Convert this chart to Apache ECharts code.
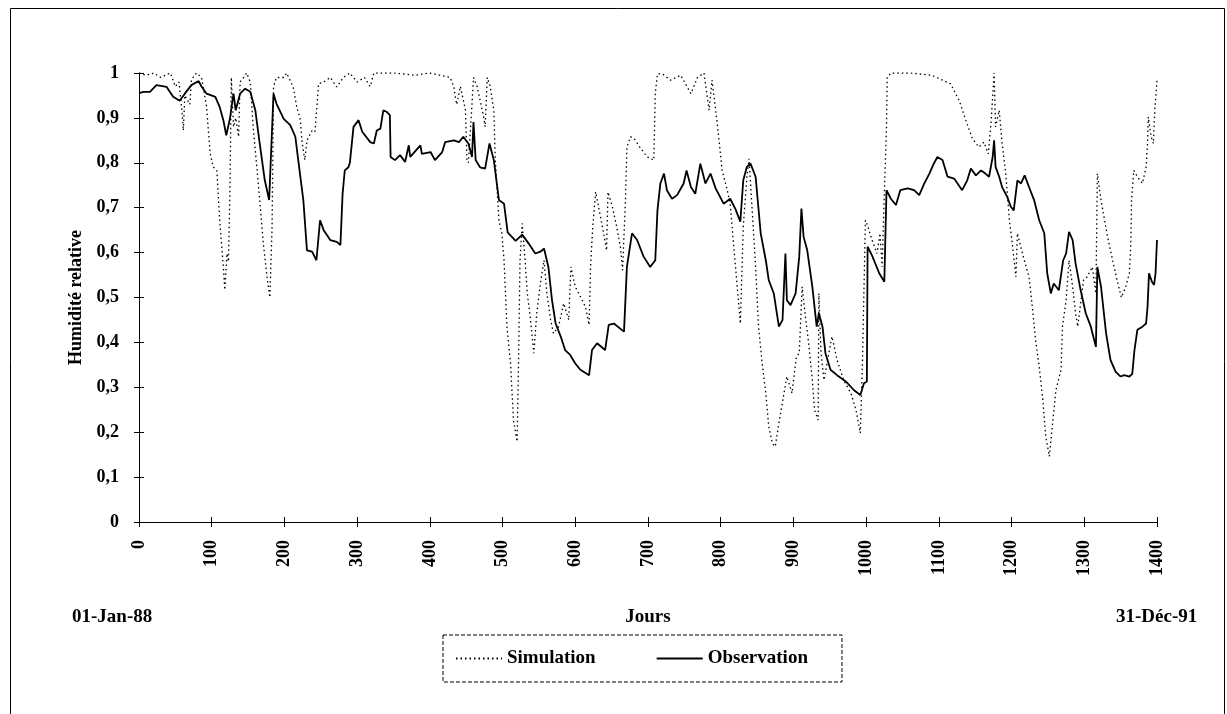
<!DOCTYPE html>
<html>
<head>
<meta charset="utf-8">
<script src="https://cdn.jsdelivr.net/npm/echarts@6/dist/echarts.min.js"></script>
<style>
html,body{margin:0;padding:0;background:#fff;}
#chart{width:1227px;height:714px;}
</style>
</head>
<body>
<div id="chart"></div>
<script>
// ---- Data ----
const yTicks = [0, 0.1, 0.2, 0.3, 0.4, 0.5, 0.6, 0.7, 0.8, 0.9, 1];
const xTicks = [0, 100, 200, 300, 400, 500, 600, 700, 800, 900, 1000, 1100, 1200, 1300, 1400];
const startLabel = '01-Jan-88';
const endLabel = '31-Déc-91';

const obsDays = [0,6,15,24,38,47,56,63,72,82,86,93,105,111,116,120,125,130,133,139,146,153,160,166,173,179,185,189,199,208,215,219,226,231,238,244,249,254,263,272,277,280,283,288,
290,295,302,307,318,323,327,332,336,341,345,346,352,359,366,371,373,387,389,401,407,417,421,433,440,446,453,458,460,463,469,476,482,488,495,502,507,518,527,536,545,552,557,563,568,573,580,586,593,600,607,619,623,630,641,646,653,667,671,678,685,694,703,710,713,717,722,726,733,740,749,753,759,765,772,779,786,793,804,813,820,827,831,836,841,848,855,862,866,873,880,885,889,891,896,903,908,911,914,919,926,932,935,940,944,951,960,972,983,992,997,1001,1002,1008,1018,1025,1028,1034,1041,1047,1057,1066,1073,1080,1087,1093,1098,1105,1112,1121,1132,1139,1144,1151,1158,1164,1169,1174,1176,1178,1183,1187,1194,1199,1203,1208,1213,1218,1224,1231,1238,1245,1249,1254,1258,1265,1271,1275,1279,1284,1288,1295,1302,1309,1316,1318,1323,1330,1336,1343,1350,1355,1362,1366,1369,1373,1380,1385,1387,1389,1393,1396,1398,1400];
const obsValues = [0.955,0.958,0.958,0.973,0.969,0.947,0.938,0.954,0.973,0.982,0.97,0.954,0.947,0.924,0.895,0.861,0.898,0.954,0.917,0.954,0.965,0.958,0.917,0.843,0.761,0.717,0.954,0.932,0.898,0.884,0.858,0.806,0.717,0.605,0.602,0.583,0.672,0.65,0.628,0.624,0.617,0.731,0.783,0.79,
0.80,0.88,0.895,0.869,0.846,0.843,0.872,0.876,0.917,0.913,0.906,0.813,0.806,0.817,0.802,0.839,0.813,0.839,0.82,0.824,0.806,0.824,0.846,0.85,0.846,0.858,0.843,0.813,0.891,0.806,0.79,0.787,0.843,0.806,0.717,0.709,0.645,0.626,0.64,0.62,0.598,0.602,0.609,0.568,0.494,0.442,0.413,0.383,0.372,0.353,0.339,0.327,0.383,0.398,0.383,0.439,0.442,0.424,0.568,0.643,0.628,0.591,0.568,0.583,0.694,0.754,0.776,0.739,0.72,0.728,0.754,0.783,0.746,0.731,0.798,0.754,0.776,0.743,0.709,0.72,0.698,0.669,0.761,0.791,0.798,0.769,0.643,0.583,0.539,0.509,0.435,0.45,0.598,0.494,0.483,0.509,0.591,0.698,0.635,0.605,0.524,0.435,0.465,0.435,0.376,0.339,0.327,0.313,0.294,0.283,0.309,0.313,0.613,0.594,0.554,0.535,0.739,0.72,0.706,0.739,0.743,0.739,0.728,0.754,0.776,0.798,0.813,0.806,0.769,0.765,0.739,0.761,0.787,0.772,0.783,0.776,0.769,0.813,0.85,0.791,0.769,0.746,0.724,0.702,0.694,0.761,0.754,0.772,0.746,0.717,0.672,0.643,0.554,0.509,0.531,0.516,0.583,0.598,0.646,0.628,0.576,0.516,0.465,0.435,0.39,0.568,0.524,0.42,0.361,0.335,0.324,0.327,0.324,0.33,0.383,0.428,0.435,0.442,0.479,0.554,0.535,0.528,0.554,0.628];

const simDays = [0,10,20,30,43,50,55,59,61,63,70,72,79,86,93,95,98,102,107,111,116,118,121,123,125,127,130,133,137,139,144,148,153,157,162,166,171,176,180,183,185,189,199,203,212,217,222,224,228,231,238,242,245,247,254,263,272,281,290,300,310,318,323,350,380,400,428,433,435,437,442,449,451,453,458,460,465,469,474,476,479,483,488,490,495,499,502,506,511,515,520,522,524,527,531,534,538,543,547,552,557,561,566,570,577,584,591,594,600,607,614,619,621,624,628,632,639,643,645,651,657,662,665,669,671,676,681,690,699,708,710,713,720,731,745,759,768,777,784,788,795,802,809,813,818,827,831,836,839,843,848,852,857,862,866,871,875,880,887,891,898,904,908,912,917,921,926,929,934,935,938,942,947,953,960,969,979,986,992,995,999,1002,1008,1015,1019,1022,1025,1028,1029,1034,1061,1090,1116,1128,1137,1146,1155,1162,1168,1172,1176,1178,1183,1187,1192,1197,1201,1206,1208,1215,1220,1224,1229,1233,1238,1243,1247,1252,1256,1261,1268,1270,1275,1279,1284,1288,1291,1295,1299,1304,1311,1316,1318,1323,1332,1339,1344,1351,1357,1362,1364,1365,1368,1373,1380,1385,1387,1388,1392,1395,1397,1400];
const simValues = [1.0,0.995,1.0,0.99,1.0,0.97,0.98,0.917,0.872,0.95,0.93,0.985,1.0,0.99,0.924,0.88,0.82,0.791,0.783,0.672,0.568,0.517,0.598,0.58,0.731,0.99,0.88,0.9,0.858,0.98,0.99,1.0,0.98,0.88,0.791,0.717,0.62,0.546,0.5,0.657,0.969,0.99,0.99,1.0,0.969,0.924,0.895,0.85,0.806,0.85,0.872,0.869,0.932,0.976,0.98,0.99,0.969,0.99,1.0,0.98,0.99,0.97,1.0,1.0,0.995,1.0,0.99,0.969,0.947,0.93,0.97,0.917,0.806,0.8,0.932,0.99,0.97,0.94,0.902,0.88,0.99,0.97,0.917,0.806,0.672,0.643,0.583,0.435,0.353,0.227,0.179,0.36,0.583,0.665,0.583,0.509,0.457,0.376,0.465,0.531,0.583,0.509,0.45,0.42,0.435,0.487,0.45,0.568,0.524,0.502,0.479,0.439,0.568,0.657,0.735,0.702,0.643,0.605,0.735,0.702,0.657,0.613,0.561,0.717,0.835,0.858,0.854,0.832,0.813,0.806,0.954,0.998,0.998,0.984,0.995,0.954,0.99,1.0,0.917,0.984,0.891,0.783,0.739,0.709,0.613,0.442,0.657,0.769,0.809,0.702,0.568,0.435,0.353,0.287,0.213,0.175,0.168,0.22,0.287,0.324,0.287,0.368,0.376,0.524,0.45,0.398,0.316,0.25,0.227,0.509,0.376,0.316,0.361,0.413,0.361,0.316,0.287,0.25,0.198,0.36,0.672,0.66,0.628,0.598,0.643,0.568,0.731,0.88,0.99,1.0,1.0,0.995,0.976,0.939,0.895,0.854,0.835,0.846,0.82,0.895,1.0,0.88,0.917,0.843,0.776,0.672,0.62,0.546,0.643,0.598,0.568,0.546,0.472,0.405,0.346,0.272,0.19,0.146,0.213,0.294,0.339,0.435,0.494,0.583,0.524,0.465,0.435,0.487,0.539,0.546,0.568,0.509,0.776,0.717,0.635,0.583,0.546,0.5,0.524,0.554,0.62,0.717,0.783,0.769,0.754,0.791,0.843,0.902,0.858,0.843,0.917,0.984];

const zip = (a, b) => a.map((d, i) => [d, b[i]]);

const FONT = '"Liberation Serif", "Times New Roman", serif';
const chart = echarts.init(document.getElementById('chart'), null, {renderer: 'canvas'});

const gridL = 139, gridR = 70, gridT = 73, gridB = 192;
const axisCommon = {color: '#000', width: 1};

chart.setOption({
  animation: false,
  backgroundColor: '#fff',
  textStyle: {fontFamily: FONT},
  grid: {left: gridL, right: gridR, top: gridT, bottom: gridB, containLabel: false},
  legend: {
    data: ['Simulation', 'Observation'],
    left: 443,
    top: 635,
    itemGap: 60,
    itemWidth: 46,
    itemHeight: 14,
    textStyle: {fontFamily: FONT, fontWeight: 'bold', fontSize: 19, color: '#000'},
    itemStyle: {color: 'rgba(0,0,0,0)', borderWidth: 0, opacity: 0},
    padding: [14, 34, 14, 12],
    borderColor: '#000',
    borderWidth: 1,
    borderType: 'dashed'
  },
  xAxis: [{
    type: 'value',
    min: 0, max: 1400, interval: 100,
    name: 'Jours',
    nameLocation: 'middle',
    nameGap: 86,
    nameTextStyle: {fontFamily: FONT, fontWeight: 'bold', fontSize: 19, color: '#000'},
    axisLine: {lineStyle: axisCommon, onZero: false},
    axisTick: {show: true, length: 5, lineStyle: axisCommon},
    axisLabel: {
      rotate: 90, margin: 18, color: '#000', fontFamily: FONT, fontWeight: 'bold', fontSize: 18,
      formatter: v => xTicks.includes(v) ? String(v) : ''
    },
    splitLine: {show: false}
  }, {
    type: 'value', position: 'bottom',
    min: 0, max: 1400, interval: 100,
    axisLine: {show: false},
    axisTick: {show: true, inside: true, length: 5, lineStyle: axisCommon},
    axisLabel: {show: false},
    splitLine: {show: false}
  }],
  yAxis: [{
    type: 'value',
    min: 0, max: 1, interval: 0.1,
    name: 'Humidité relative',
    nameLocation: 'middle',
    nameGap: 51,
    nameRotate: 90,
    nameTextStyle: {fontFamily: FONT, fontWeight: 'bold', fontSize: 18, color: '#000'},
    axisLine: {show: true, lineStyle: axisCommon},
    axisTick: {show: true, length: 5, lineStyle: axisCommon},
    axisLabel: {
      margin: 20, color: '#000', fontFamily: FONT, fontWeight: 'bold', fontSize: 18,
      formatter: v => {
        const t = yTicks.find(k => Math.abs(k - v) < 1e-6);
        return t === undefined ? '' : String(Math.round(t * 10) / 10).replace('.', ',');
      }
    },
    splitLine: {show: false}
  }, {
    type: 'value', position: 'left',
    min: 0, max: 1, interval: 0.1,
    axisLine: {show: false},
    axisTick: {show: true, inside: true, length: 5, lineStyle: axisCommon},
    axisLabel: {show: false},
    splitLine: {show: false}
  }],
  graphic: [
    {type: 'rect', left: 8, top: 6, shape: {width: 1214, height: 706}, style: {fill: 'none', stroke: '#000', lineWidth: 1}, silent: true, z: -1},
    {type: 'text', left: 72, top: 608, style: {text: startLabel, font: 'bold 19px ' + FONT, fill: '#000'}},
    {type: 'text', left: 1116, top: 608, style: {text: endLabel, font: 'bold 19px ' + FONT, fill: '#000'}}
  ],
  series: [{
    name: 'Simulation',
    type: 'line',
    xAxisIndex: 0, yAxisIndex: 0,
    data: zip(simDays, simValues),
    symbol: 'none',
    lineStyle: {color: '#000', width: 1.3, type: [1.5, 3]},
    itemStyle: {color: '#000'},
    z: 2
  }, {
    name: 'Observation',
    type: 'line',
    xAxisIndex: 0, yAxisIndex: 0,
    data: zip(obsDays, obsValues),
    symbol: 'none',
    lineStyle: {color: '#000', width: 1.8, type: 'solid'},
    itemStyle: {color: '#000'},
    z: 3
  }]
});
</script>
</body>
</html>
